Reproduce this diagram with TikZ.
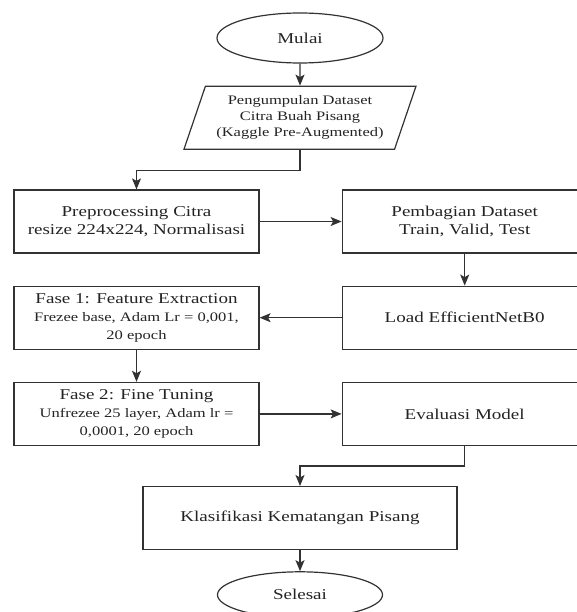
\documentclass[tikz,border=0pt]{standalone}
\usepackage{fontspec}
\setmainfont{Liberation Serif}[FakeStretch=1.27]
\definecolor{flowLine}{RGB}{50,50,50}
\definecolor{flowText}{RGB}{35,35,35}
\usepackage{tikz}
\usetikzlibrary{arrows.meta,positioning,shapes.geometric}
\newcommand{\mainsize}{\fontsize{15}{18}\selectfont}
\newcommand{\subsize}{\fontsize{13}{16}\selectfont}

\begin{document}
\begin{tikzpicture}[x=1pt, y=-1pt,
  box/.style={draw=flowLine, line width=1.2pt, minimum width=245pt,
              minimum height=63pt, align=center, font=\mainsize, text=flowText},
  term/.style={ellipse, draw=flowLine, line width=1.2pt, minimum width=166pt,
               minimum height=50pt, font=\mainsize, text=flowText},
  io/.style={trapezium, trapezium left angle=67, trapezium right angle=113,
             trapezium stretches body, draw=flowLine, line width=1.2pt,
             minimum width=232pt, minimum height=63pt, align=center,
             font=\subsize, text=flowText},
  arr/.style={-{Stealth[length=11pt,width=9pt,inset=2.5pt]}, draw=flowLine, line width=1.2pt}
]
  \useasboundingbox (0,0) rectangle (576,612);

  \node[term] (mulai) at (300,38) {Mulai};
  \node[io, below=22pt of mulai] (data)
    {Pengumpulan Dataset\\ Citra Buah Pisang\\ (Kaggle Pre-Augmented)};

  % two columns
  \node[box] (prep) at (136.5,221.5) {Preprocessing Citra\\ resize 224x224, Normalisasi};
  \node[box, right=82pt of prep] (bagi) {Pembagian Dataset\\ Train, Valid, Test};
  \node[box, below=32pt of prep] (fase1)
    {Fase 1: Feature Extraction\\ \subsize Frezee base, Adam Lr = 0,001,\\ \subsize 20 epoch};
  \node[box, below=32pt of bagi] (load) {Load EfficientNetB0};
  \node[box, below=32pt of fase1] (fase2)
    {Fase 2: Fine Tuning\\ \subsize Unfrezee 25 layer, Adam lr =\\ \subsize 0,0001, 20 epoch};
  \node[box, below=32pt of load] (eval) {Evaluasi Model};

  \node[box, minimum width=314pt, below=40pt of fase2.south -| mulai] (klas)
    {Klasifikasi Kematangan Pisang};
  \node[term, minimum width=165pt, minimum height=46pt, below=21pt of klas] (selesai) {Selesai};

  % connectors
  \draw[arr] (mulai) -- (data);
  \draw[arr] (data.south) -- ++(0,21) -| (prep.north);
  \draw[arr] (prep) -- (bagi);
  \draw[arr] (bagi) -- (load);
  \draw[arr] (load) -- (fase1);
  \draw[arr] (fase1) -- (fase2);
  \draw[arr] (fase2) -- (eval);
  \draw[arr] (eval.south) -- ++(0,20) -| (klas.north);
  \draw[arr] (klas) -- (selesai);
\end{tikzpicture}
\end{document}
